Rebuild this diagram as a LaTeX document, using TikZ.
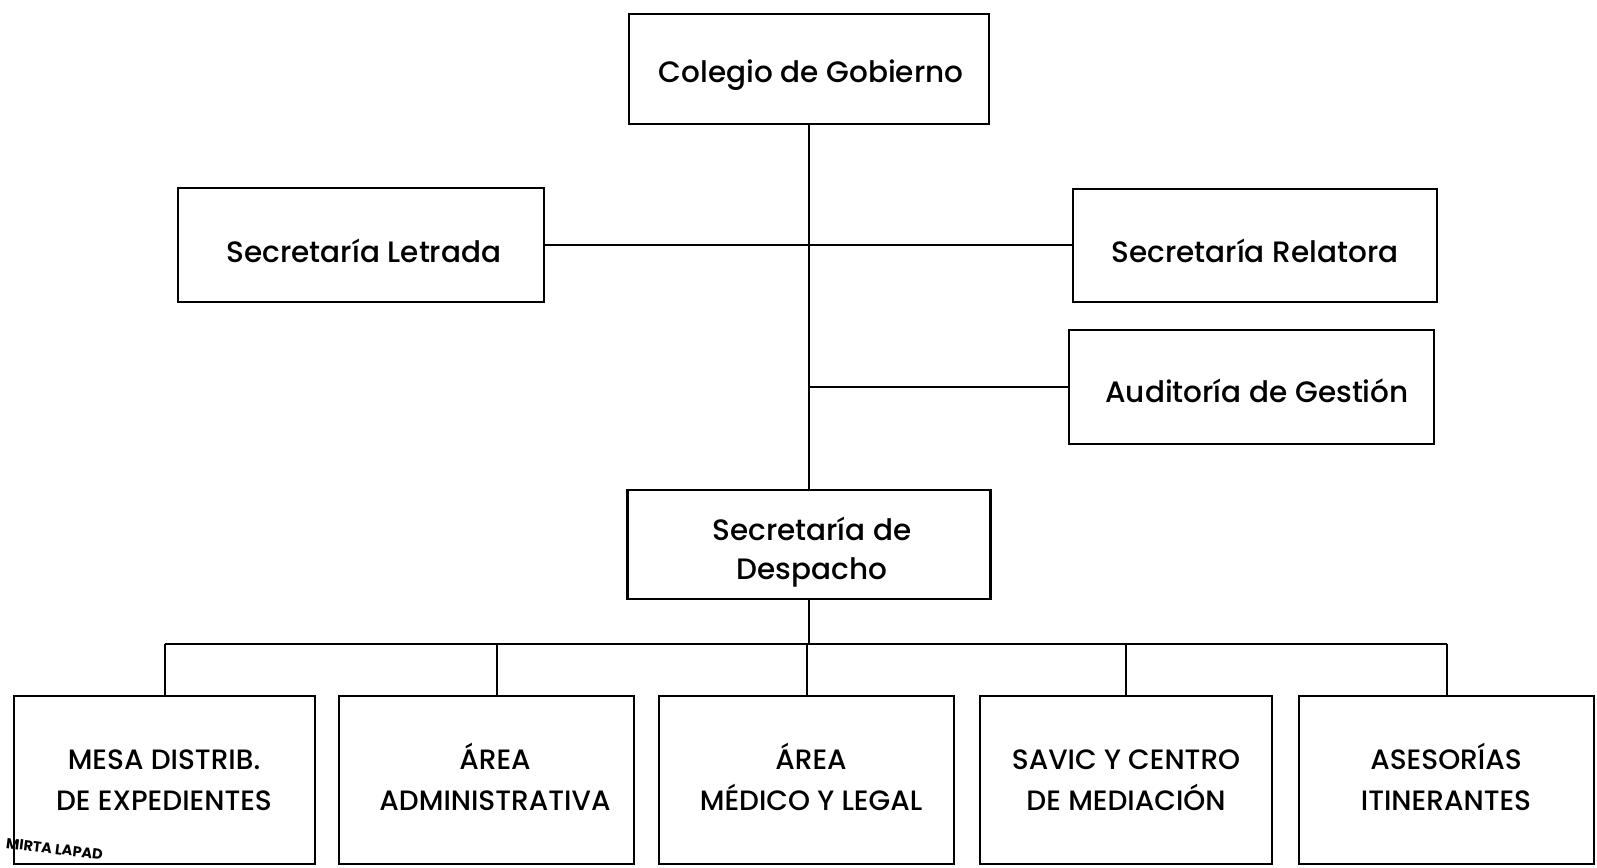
\documentclass[tikz,border=0pt]{standalone}
\usepackage{fontspec}
\setmainfont{Poppins}[UprightFont=* Medium,BoldFont=* Bold]
\begin{document}
\begin{tikzpicture}[x=1pt,y=-1pt,
  box/.style={draw=black,line width=2.2pt,inner sep=0pt},
  lowbox/.style={box,minimum height=168pt},
  uptext/.style={align=center,inner sep=0pt,font=\fontsize{29.5}{39}\selectfont},
  lowtext/.style={align=center,inner sep=0pt,font=\fontsize{28}{41}\selectfont},
  conn/.style={line width=2pt}]
\useasboundingbox (0,0) rectangle (1597,867);
\node[box,minimum width=360pt,minimum height=110pt] (col) at (809,69) {};
\node[box,minimum width=366pt,minimum height=114pt] (let) at (361,245) {};
\node[box,minimum width=364pt,minimum height=113pt] (rel) at (1255,245.5) {};
\node[box,minimum width=365pt,minimum height=114pt] (aud) at (1251.5,387) {};
\node[box,minimum width=363pt,minimum height=109pt] (desp) at (809,544.5) {};
\node[lowbox,minimum width=301pt] (b1) at (164.5,780) {};
\node[lowbox,minimum width=295pt] (b2) at (486.5,780) {};
\node[lowbox,minimum width=295pt] (b3) at (806.5,780) {};
\node[lowbox,minimum width=292pt] (b4) at (1126,780) {};
\node[lowbox,minimum width=295pt] (b5) at (1446.5,780) {};
\node[uptext] (colt) at (811,75) {Colegio de Gobierno};
\node[uptext] (lett) at (364,251) {Secretaría Letrada};
\node[uptext] (relt) at (1255,251) {Secretaría Relatora};
\node[uptext] (audt) at (1257,391) {Auditoría de Gestión};
\node[uptext,anchor=base] (despt) at (812,540) {Secretaría de};
\node[uptext,anchor=base] (despt2) at (812,579) {Despacho};
\node[lowtext,anchor=base] (b1t) at (164,769) {MESA DISTRIB.};
\node[lowtext,anchor=base] (b1t2) at (164,810) {DE EXPEDIENTES};
\node[lowtext,anchor=base] (b2t) at (495,769) {ÁREA};
\node[lowtext,anchor=base] (b2t2) at (495,810) {ADMINISTRATIVA};
\node[lowtext,anchor=base] (b3t) at (811,769) {ÁREA};
\node[lowtext,anchor=base] (b3t2) at (811,810) {MÉDICO Y LEGAL};
\node[lowtext,anchor=base] (b4t) at (1126,769) {SAVIC Y CENTRO};
\node[lowtext,anchor=base] (b4t2) at (1126,810) {DE MEDIACIÓN};
\node[lowtext,anchor=base] (b5t) at (1446,769) {ASESORÍAS};
\node[lowtext,anchor=base] (b5t2) at (1446,810) {ITINERANTES};
\coordinate (bus) at (0,644);
\coordinate (d2) at ([xshift=10.5pt]b2.north);
\draw[conn] (col.south) -- (desp.north);
\draw[conn] (let.east) -- (let.east -| rel.west);
\draw[conn] (col.south |- aud.west) -- (aud.west);
\draw[conn] (desp.south) -- (desp.south |- bus);
\draw[conn] (b1.north |- bus) -- (b5.north |- bus);
\draw[conn] (b1.north |- bus) -- (b1.north);
\draw[conn] (d2 |- bus) -- (d2);
\draw[conn] (b3.north |- bus) -- (b3.north);
\draw[conn] (b4.north |- bus) -- (b4.north);
\draw[conn] (b5.north |- bus) -- (b5.north);
\node[font=\bfseries\fontsize{14.5}{14.5}\selectfont,rotate=-7,anchor=west,inner sep=0pt] (stamp) at (6,843) {MIRTA LAPAD};
\end{tikzpicture}
\end{document}
